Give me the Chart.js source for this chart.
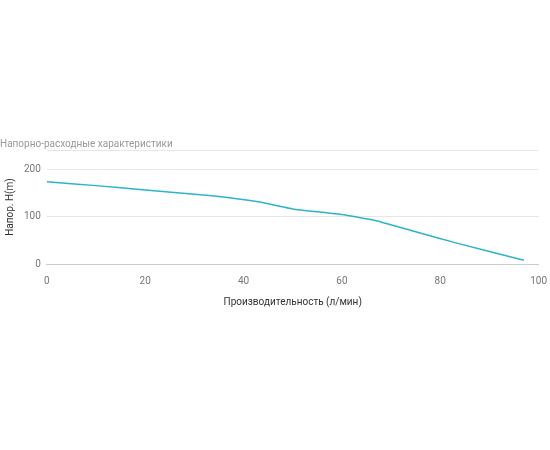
<!DOCTYPE html><html><head><meta charset="utf-8"><script src="https://cdn.jsdelivr.net/npm/chart.js"></script>
<style>body{margin:0;background:#fff}#w{width:550px;height:450px}</style></head><body><div id="w"><canvas id="c"></canvas></div>
<script>
const flow=[0,10,20,33,43,50,60,67,75,83,97];
const head=[173,165,156,144,131,116,104,91,68,45,8];
const yTicks=[0,100,200,240];
const xTicks=[0,20,40,60,80,100];
new Chart(document.getElementById('c'),{type:'scatter',
data:{datasets:[{data:flow.map((x,i)=>({x,y:head[i]})),showLine:true,borderColor:'#2bb5c8',borderWidth:1.5,pointRadius:0,tension:0.1}]},
options:{responsive:true,maintainAspectRatio:false,animation:false,
layout:{padding:{top:138,bottom:138,right:5,left:0}},
plugins:{legend:{display:false},tooltip:{enabled:false},
title:{display:true,text:'Напорно-расходные характеристики',align:'start',color:'#999',font:{family:'Roboto',size:10,weight:'normal'},padding:{top:0,bottom:0}}},
scales:{x:{type:'linear',min:0,max:100,afterBuildTicks:a=>{a.ticks=xTicks.map(v=>({value:v}))},
grid:{display:false},border:{color:'#ccc'},ticks:{color:'#777',font:{family:'Roboto',size:10}},
title:{display:true,text:'Производительность (л/мин)',color:'#333',font:{family:'Roboto',size:10},padding:{top:6}}},
y:{min:0,max:240,afterBuildTicks:a=>{a.ticks=yTicks.map(v=>({value:v}))},
grid:{color:'#e6e6e6',drawTicks:false},border:{display:false},
ticks:{color:'#777',padding:6,font:{family:'Roboto',size:10},callback:v=>v===240?'':v},
title:{display:true,text:'Напор. H(m)',color:'#333',font:{family:'Roboto',size:10},padding:{bottom:2}}}}}});
</script></body></html>
